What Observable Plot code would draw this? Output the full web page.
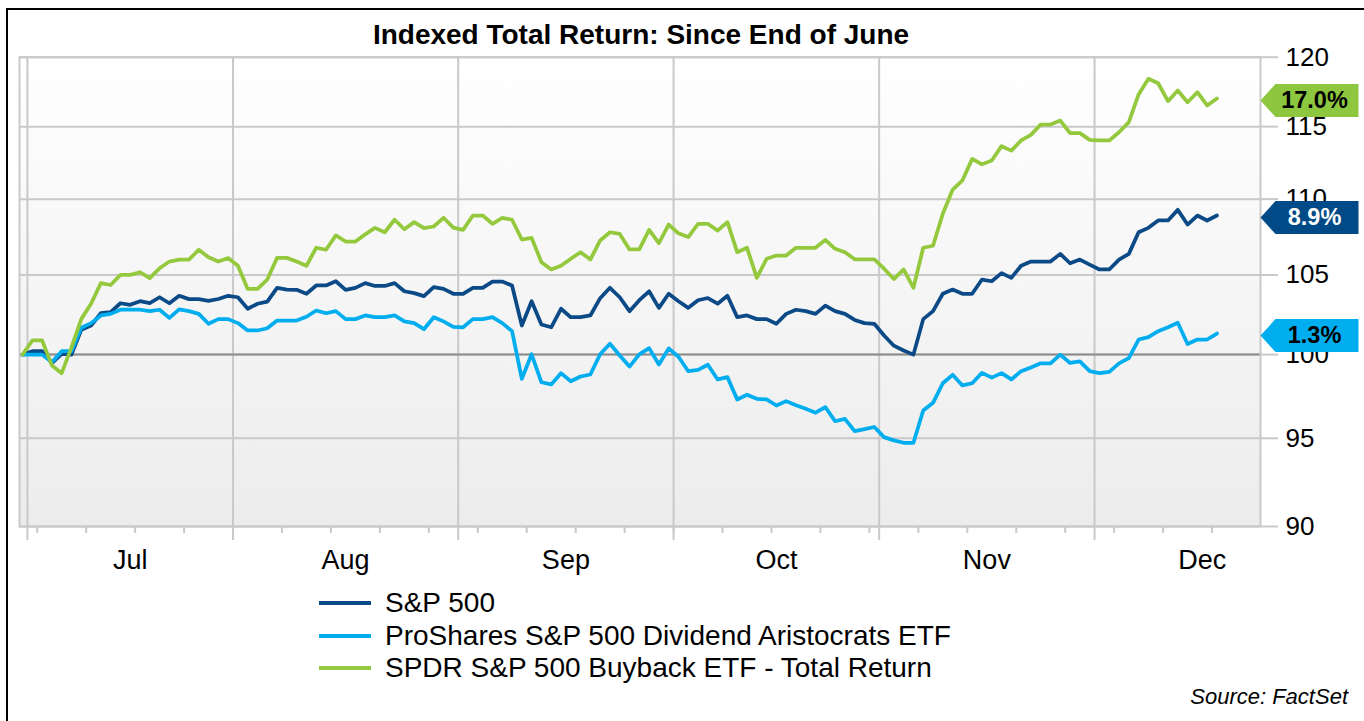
<!DOCTYPE html>
<html>
<head>
<meta charset="utf-8">
<script src="https://cdn.jsdelivr.net/npm/d3@7"></script>
<script src="https://cdn.jsdelivr.net/npm/@observablehq/plot@0.6"></script>
<style>
  body { margin: 0; background: #fff; font-family: "Liberation Sans", Arial, sans-serif; }
  #wrap { position: relative; width: 1364px; height: 721px; overflow: hidden; background: #fff; }
  #border { position: absolute; left: 6px; top: 8px; width: 1400px; height: 760px; border-left: 2px solid #000; border-top: 2px solid #000; }
  #title { position: absolute; left: 0; width: 1282px; top: 19px; text-align: center; font-weight: bold; font-size: 28px; line-height: 32px; color: #000; }
  #chart { position: absolute; left: 0; top: 45px; }
  #legend { position: absolute; left: 319px; top: 587px; }
  .row { height: 32.5px; display: flex; align-items: center; font-size: 28px; color: #000; white-space: nowrap; }
  .sw { width: 52px; height: 4px; margin-right: 14px; flex: none; }
  #source { position: absolute; right: 16px; top: 684px; font-style: italic; font-size: 22px; line-height: 25px; color: #000; }
</style>
</head>
<body>
<svg width="0" height="0" style="position:absolute">
  <defs>
    <linearGradient id="bg" x1="0" y1="0" x2="0" y2="1">
      <stop offset="0" stop-color="#ffffff"/>
      <stop offset="1" stop-color="#ececec"/>
    </linearGradient>
  </defs>
</svg>
<div id="wrap">
  <div id="border"></div>
  <div id="title">Indexed Total Return: Since End of June</div>
  <div id="chart"></div>
  <div id="legend"></div>
  <div id="source">Source: FactSet</div>
</div>
<script>
// ---- data (indexed total return, one value per weekday starting 2016-06-30) ----
const sp500 = [100,100.21,100.21,99.48,100.05,100.0,101.53,101.8,102.57,102.64,103.2,103.1,103.33,103.21,103.58,103.2,103.67,103.46,103.46,103.35,103.47,103.67,
  103.58,102.85,103.17,103.3,104.18,104.07,104.05,103.8,104.33,104.33,104.6,104.05,104.18,104.48,104.3,104.3,104.48,103.96,103.84,103.65,104.22,104.11,103.8,
  103.8,104.18,104.18,104.58,104.58,104.33,101.8,103.33,101.86,101.69,102.85,102.32,102.32,102.43,103.52,104.18,103.58,102.7,103.39,103.96,102.91,103.8,
  103.33,102.91,103.39,103.53,103.17,103.67,102.32,102.43,102.2,102.2,101.91,102.53,102.79,102.7,102.53,103.05,102.7,102.53,102.15,101.95,101.91,
  101.18,100.55,100.25,100.0,102.2,102.7,103.8,104.07,103.8,103.8,104.71,104.6,105.12,104.82,105.6,105.87,105.87,105.87,106.37,105.76,106.0,105.67,
  105.36,105.36,106.0,106.37,107.79,108.08,108.57,108.57,109.28,108.3,108.9,108.57,108.9];
const proshares = [100,100,100,99.53,100.21,100.21,101.66,101.95,102.43,102.53,102.79,102.79,102.79,102.7,102.79,102.28,102.81,102.7,102.53,101.91,102.2,102.2,
  101.95,101.49,101.49,101.63,102.11,102.11,102.11,102.35,102.74,102.57,102.7,102.2,102.2,102.43,102.32,102.32,102.43,102.06,101.95,101.57,102.32,102.06,101.72,
  101.69,102.2,102.2,102.32,101.95,101.45,98.53,100.02,98.32,98.19,98.87,98.38,98.67,98.79,100.02,100.67,99.95,99.27,100.02,100.4,99.4,100.38,
  99.87,98.99,99.07,99.38,98.49,98.63,97.29,97.57,97.33,97.29,96.93,97.19,96.95,96.73,96.5,96.83,96.0,96.14,95.42,95.54,95.66,
  95.07,94.88,94.74,94.74,96.63,97.09,98.26,98.77,98.13,98.26,98.89,98.6,98.87,98.49,98.99,99.22,99.47,99.47,100.0,99.49,99.59,98.99,
  98.87,98.95,99.47,99.79,100.93,101.08,101.45,101.69,101.97,100.65,100.93,100.93,101.3];
const spdr = [100,100.87,100.87,99.34,98.87,100.45,102.2,103.17,104.48,104.36,105.01,105.01,105.18,104.8,105.44,105.87,106.0,106.0,106.64,106.15,105.87,106.1,
  105.6,104.11,104.11,104.71,106.11,106.11,105.87,105.6,106.77,106.64,107.58,107.18,107.18,107.65,108.08,107.79,108.62,107.99,108.46,108.06,108.17,108.75,108.1,
  107.95,108.9,108.9,108.35,108.75,108.62,107.31,107.42,105.83,105.36,105.6,106.05,106.48,106.0,107.25,107.79,107.68,106.66,106.66,107.95,107.07,108.3,
  107.72,107.47,108.35,108.35,107.9,108.46,106.48,106.77,104.82,106.05,106.26,106.26,106.77,106.77,106.77,107.29,106.7,106.48,106.02,106.02,106.02,
  105.41,104.74,105.36,104.18,106.77,106.9,109.02,110.63,111.27,112.75,112.37,112.64,113.63,113.32,114.03,114.42,115.15,115.15,115.43,114.54,114.54,114.07,
  114.03,114.03,114.6,115.31,117.29,118.42,118.1,116.81,117.57,116.73,117.45,116.5,117.0];

const seriesNames = ["S&P 500", "ProShares S&P 500 Dividend Aristocrats ETF", "SPDR S&P 500 Buyback ETF - Total Return"];
const seriesColors = ["#0b4a86", "#00aeef", "#94c93d"];
const badgeColors = ["#004b87", "#00aeef", "#8dc63f"];
const endLabels = ["8.9%", "1.3%", "17.0%"];
const endLabelInk = ["#ffffff", "#000000", "#000000"];
const monthNames = ["Jul", "Aug", "Sep", "Oct", "Nov", "Dec"];
const yTicks = [90, 95, 100, 105, 110, 115, 120];

// ---- weekday calendar for the category axis ----
const days = [];
for (let d = new Date(2016, 5, 30); days.length < 132; d.setDate(d.getDate() + 1)) {
  const w = d.getDay();
  if (w !== 0 && w !== 6) days.push(new Date(d));
}
const xMax = 126.45;
const monthBounds = [];
for (let i = 1; i < days.length; i++) if (days[i].getMonth() !== days[i - 1].getMonth()) monthBounds.push(i - 0.5);
const edges = monthBounds.concat([days.length - 0.5]);
const monthCenters = monthNames.map((name, k) => ({ name, pos: (edges[k] + edges[k + 1]) / 2 }));
const weekTicks = [];
for (let i = 1; i < days.length; i++) if (days[i].getDay() === 1 && i - 0.5 < xMax) weekTicks.push(i - 0.5);

const allSeries = [sp500, proshares, spdr];
const data = [];
allSeries.forEach((arr, s) => arr.forEach((v, i) => data.push({ series: seriesNames[s], i, v })));
const ends = allSeries.map((arr, k) => ({ series: seriesNames[k], v: arr[arr.length - 1], label: endLabels[k] }));
const yLabels = yTicks.map(t => ({ t, s: String(t) }));

const badgeShape = {
  draw(ctx) {
    ctx.moveTo(-49, 0);
    ctx.lineTo(-34, -16.5);
    ctx.lineTo(49, -16.5);
    ctx.lineTo(49, 16.5);
    ctx.lineTo(-34, 16.5);
    ctx.closePath();
  }
};

const grid = "#c9c9c9";
const plot = Plot.plot({
  width: 1364,
  height: 545,
  marginLeft: 19,
  marginRight: 104,
  marginTop: 11.7,
  marginBottom: 64,
  x: { domain: [-0.31, xMax] },
  y: { type: "log", domain: [90, 120] },
  color: { domain: seriesNames, range: seriesColors },
  style: { fontFamily: "'Liberation Sans', Arial, sans-serif", background: "transparent", overflow: "visible" },
  marks: [
    Plot.frame({ fill: "url(#bg)", stroke: null }),
    Plot.gridY(yTicks, { stroke: grid, strokeOpacity: 1, strokeWidth: 2 }),
    Plot.gridX(monthBounds, { stroke: grid, strokeOpacity: 1, strokeWidth: 2 }),
    Plot.ruleY([100], { stroke: "#8c8c8c", strokeWidth: 2 }),
    Plot.frame({ stroke: grid, strokeWidth: 2 }),
    Plot.axisX(monthBounds, { tickSize: 14, tickFormat: () => "", stroke: grid, strokeWidth: 2, label: null }),
    Plot.axisX(weekTicks, { tickSize: 7, tickFormat: () => "", stroke: grid, strokeWidth: 2, label: null }),
    Plot.text(monthCenters, { x: "pos", text: "name", frameAnchor: "bottom", lineAnchor: "middle", textAnchor: "middle", dy: 34, fontSize: 27, fill: "#000" }),
    Plot.axisY(yTicks, { anchor: "right", tickSize: 17, tickFormat: () => "", stroke: grid, strokeWidth: 2, label: null }),
    Plot.text(yLabels, { y: "t", text: "s", frameAnchor: "right", textAnchor: "start", lineAnchor: "middle", dx: 25, fontSize: 26, fill: "#000" }),
    Plot.line(data, { x: "i", y: "v", z: "series", stroke: "series", strokeWidth: 3.75, strokeLinejoin: "round" }),
    ...ends.map((e, k) => Plot.dot([e], { y: "v", frameAnchor: "right", dx: 49, dy: 2, symbol: badgeShape, r: 10, fill: badgeColors[k], stroke: null })),
    ...ends.map((e, k) => Plot.text([e], { y: "v", text: "label", frameAnchor: "right", textAnchor: "middle", lineAnchor: "middle", dx: 54, dy: 2, fill: endLabelInk[k], fontWeight: "bold", fontSize: 23.5 }))
  ]
});
document.getElementById("chart").appendChild(plot);

// ---- legend ----
const legend = document.getElementById("legend");
seriesNames.forEach((name, k) => {
  const row = document.createElement("div");
  row.className = "row";
  const sw = document.createElement("span");
  sw.className = "sw";
  sw.style.background = seriesColors[k];
  const t = document.createElement("span");
  t.textContent = name;
  row.appendChild(sw);
  row.appendChild(t);
  legend.appendChild(row);
});
</script>
</body>
</html>
